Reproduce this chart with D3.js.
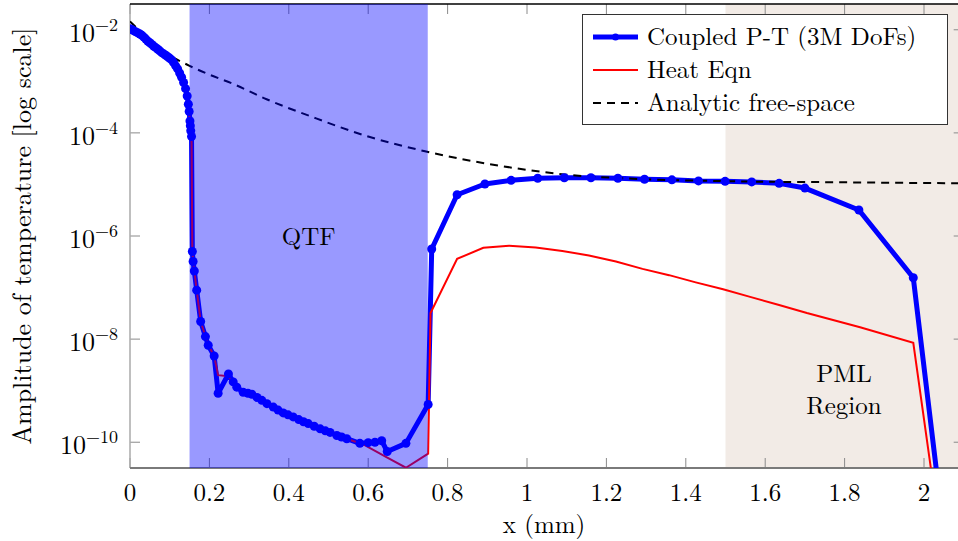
<!DOCTYPE html>
<html>
<head>
<meta charset="utf-8">
<script src="https://cdn.jsdelivr.net/npm/d3@7"></script>
<style>
  body { margin: 0; background: #fff; }
  svg text { font-family: "Latin Modern Roman", "CMU Serif", "Liberation Serif", serif; fill: #000; }
</style>
</head>
<body>
<script>
// x positions (mm) and amplitudes
const coupledX = [0, 0.005, 0.01, 0.015, 0.02, 0.025, 0.03, 0.035, 0.04, 0.045, 0.05, 0.055, 0.06, 0.065,
  0.07, 0.075, 0.08, 0.085, 0.09, 0.095, 0.1, 0.105, 0.11, 0.115, 0.12, 0.125, 0.13, 0.135, 0.14, 0.144,
  0.147, 0.149, 0.151, 0.152, 0.153, 0.155, 0.157, 0.159, 0.162, 0.168, 0.178, 0.19, 0.197, 0.212, 0.222,
  0.248, 0.26, 0.269, 0.285, 0.297, 0.307, 0.32, 0.332, 0.345, 0.361, 0.373, 0.386, 0.398, 0.411, 0.425,
  0.437, 0.449, 0.464, 0.479, 0.492, 0.504, 0.521, 0.533, 0.546, 0.579, 0.6, 0.617, 0.634, 0.648, 0.695,
  0.751, 0.76, 0.824, 0.894, 0.96, 1.027, 1.094, 1.161, 1.229, 1.296, 1.365, 1.432, 1.499, 1.566, 1.635,
  1.7, 1.836, 1.973, 2.05]
const coupledY = [1.05e-2, 1.0e-2, 9.5e-3, 9.1e-3, 8.7e-3, 8.3e-3, 7.8e-3, 7.2e-3, 6.6e-3, 6.0e-3, 5.6e-3,
  5.2e-3, 4.8e-3, 4.5e-3, 4.2e-3, 3.9e-3, 3.6e-3, 3.4e-3, 3.2e-3, 3.0e-3, 2.8e-3, 2.6e-3, 2.3e-3, 2.0e-3,
  1.74e-3, 1.45e-3, 1.2e-3, 9.5e-4, 7.2e-4, 5.2e-4, 3.6e-4, 2.6e-4, 1.7e-4, 1.38e-4, 1.1e-4, 8.5e-5,
  5.0e-7, 3.2e-7, 2.1e-7, 8.9e-8, 2.2e-8, 1.12e-8, 7.6e-9, 4.7e-9, 8.9e-10,
  2.1e-9, 1.48e-9, 1.17e-9, 9.3e-10, 8.9e-10, 8.5e-10, 7.4e-10, 6.5e-10, 5.6e-10, 4.8e-10, 4.2e-10,
  3.7e-10, 3.4e-10, 3.1e-10, 2.75e-10, 2.5e-10, 2.3e-10, 2.04e-10, 1.82e-10, 1.66e-10, 1.55e-10, 1.35e-10,
  1.26e-10, 1.17e-10, 9.5e-11, 9.8e-11, 1.0e-10, 1.07e-10, 6.6e-11, 9.5e-11,
  5.4e-10, 5.6e-7, 6.3e-6, 1.02e-5, 1.2e-5, 1.32e-5, 1.35e-5, 1.35e-5, 1.32e-5, 1.26e-5, 1.23e-5, 1.17e-5,
  1.15e-5, 1.12e-5, 1.05e-5, 8.5e-6, 3.2e-6, 1.55e-7, 1.8e-12]

const heatX = [0, 0.05, 0.1, 0.12, 0.13, 0.14, 0.147, 0.151, 0.155, 0.157, 0.162, 0.168, 0.178, 0.197,
  0.212, 0.222, 0.248, 0.269, 0.307, 0.361, 0.411, 0.479, 0.546, 0.59, 0.647, 0.695, 0.751, 0.757, 0.824,
  0.89, 0.955, 1.022, 1.089, 1.156, 1.224, 1.291, 1.358, 1.425, 1.494, 1.562, 1.635, 1.705, 1.839, 1.973, 2.05]
const heatY = [1.05e-2, 5.6e-3, 2.8e-3, 1.74e-3, 1.2e-3, 7.2e-4, 3.6e-4, 1.7e-4, 8.5e-5, 5.0e-7, 2.1e-7,
  8.9e-8, 2.2e-8, 7.8e-9, 4.7e-9, 2.0e-9, 1.9e-9, 1.17e-9, 8.5e-10, 4.8e-10, 3.1e-10, 1.82e-10, 1.17e-10,
  8.9e-11, 5.1e-11, 3.2e-11, 6.0e-11, 3.2e-8, 3.6e-7, 5.9e-7, 6.5e-7, 6.0e-7, 5.1e-7, 4.2e-7, 3.2e-7,
  2.3e-7, 1.74e-7, 1.26e-7, 9.3e-8, 6.6e-8, 4.6e-8, 3.2e-8, 1.7e-8, 8.5e-9, 5e-13]

const analyticX = [0, 0.05, 0.1, 0.15, 0.2, 0.26, 0.344, 0.462, 0.6, 0.743, 0.932, 1.1, 1.267, 1.52, 1.8, 2.1]
const analyticY = [1.45e-2, 6.3e-3, 3.2e-3, 2.0e-3, 1.35e-3, 8.9e-4, 4.5e-4, 2.0e-4, 8.5e-5, 4.4e-5,
  2.3e-5, 1.55e-5, 1.29e-5, 1.15e-5, 1.1e-5, 1.05e-5]

const xTicks = [0, 0.2, 0.4, 0.6, 0.8, 1, 1.2, 1.4, 1.6, 1.8, 2]
const yTickExp = [-2, -4, -6, -8, -10]
const qtfRange = [0.15, 0.75]
const pmlRange = [1.5, 2.1]
const legendLabels = ['Coupled P-T (3M DoFs)', 'Heat Eqn', 'Analytic free-space']

const width = 958
const height = 541
const plotLeft = 130, plotTop = 4, plotBottom = 468

const x = d3.scaleLinear().domain([0, 2.1]).range([plotLeft, plotLeft + 2.1 * 397])
const y = d3.scaleLog().domain([Math.pow(10, -10.5), Math.pow(10, -1.5)]).range([plotBottom, plotTop])
const plotRight = x(2.1)

const svg = d3.select('body').append('svg')
  .attr('width', width)
  .attr('height', height)

svg.append('defs').append('clipPath').attr('id', 'plotclip')
  .append('rect')
  .attr('x', plotLeft).attr('y', plotTop)
  .attr('width', plotRight - plotLeft).attr('height', plotBottom - plotTop)

// PML background
svg.append('rect')
  .attr('x', x(pmlRange[0])).attr('y', plotTop)
  .attr('width', x(pmlRange[1]) - x(pmlRange[0]))
  .attr('height', plotBottom - plotTop)
  .attr('fill', '#f2ebe6')

// ticks and axis lines
const tickColor = '#8a8a8a'
const ticks = svg.append('g').attr('stroke', tickColor).attr('stroke-width', 1)
xTicks.forEach(function(t) {
  ticks.append('line').attr('x1', x(t)).attr('x2', x(t)).attr('y1', plotBottom).attr('y2', plotBottom - 10)
  ticks.append('line').attr('x1', x(t)).attr('x2', x(t)).attr('y1', plotTop).attr('y2', plotTop + 10)
})
yTickExp.forEach(function(e) {
  const v = y(Math.pow(10, e))
  ticks.append('line').attr('x1', plotLeft).attr('x2', plotLeft + 10).attr('y1', v).attr('y2', v)
  ticks.append('line').attr('x1', plotRight).attr('x2', plotRight - 10).attr('y1', v).attr('y2', v)
})

svg.append('line').attr('x1', plotLeft).attr('x2', plotLeft).attr('y1', plotTop).attr('y2', plotBottom)
  .attr('stroke', '#aaa').attr('stroke-width', 1.5)
svg.append('line').attr('x1', plotLeft).attr('x2', plotRight).attr('y1', plotBottom).attr('y2', plotBottom)
  .attr('stroke', '#7a7a7a').attr('stroke-width', 2)
svg.append('line').attr('x1', plotLeft).attr('x2', plotRight).attr('y1', plotTop).attr('y2', plotTop)
  .attr('stroke', '#000').attr('stroke-width', 1.5)

// series
const plot = svg.append('g').attr('clip-path', 'url(#plotclip)')
const line = d3.line().x(function(d) { return x(d[0]) }).y(function(d) { return y(d[1]) })

const coupled = d3.zip(coupledX, coupledY)
const heat = d3.zip(heatX, heatY)
const analytic = d3.zip(analyticX, analyticY)

plot.append('path').datum(coupled)
  .attr('d', line)
  .attr('fill', 'none').attr('stroke', '#0000ff').attr('stroke-width', 5)
  .attr('stroke-linejoin', 'round')

plot.append('path').datum(heat)
  .attr('d', line)
  .attr('fill', 'none').attr('stroke', '#ff0000').attr('stroke-width', 2)

plot.append('path').datum(analytic)
  .attr('d', line.curve(d3.curveMonotoneX))
  .attr('fill', 'none').attr('stroke', '#000').attr('stroke-width', 2)
  .attr('stroke-dasharray', '8,6')

// markers go on top of all lines
plot.append('g').selectAll('circle')
  .data(coupled)
  .enter().append('circle')
    .attr('cx', function(d) { return x(d[0]) })
    .attr('cy', function(d) { return y(d[1]) })
    .attr('r', 4.5)
    .attr('fill', '#0000ff')

// QTF overlay, drawn over the curves
svg.append('rect')
  .attr('x', x(qtfRange[0])).attr('y', plotTop)
  .attr('width', x(qtfRange[1]) - x(qtfRange[0]))
  .attr('height', plotBottom - plotTop)
  .attr('fill', '#0000ff')
  .attr('fill-opacity', 0.4)

// tick labels
xTicks.forEach(function(t) {
  svg.append('text')
    .attr('x', x(t)).attr('y', 501)
    .attr('text-anchor', 'middle')
    .attr('font-size', 25)
    .text(String(t))
})
yTickExp.forEach(function(e) {
  const v = y(Math.pow(10, e))
  const label = svg.append('text')
    .attr('x', 118).attr('y', v + 12)
    .attr('text-anchor', 'end')
    .attr('font-size', 26)
  label.append('tspan').text('10')
  label.append('tspan').attr('dy', -11).attr('font-size', 18).text('\u2212' + Math.abs(e))
})

svg.append('text')
  .attr('x', (plotLeft + 958) / 2).attr('y', 533)
  .attr('text-anchor', 'middle')
  .attr('font-size', 25)
  .text('x (mm)')

svg.append('text')
  .attr('transform', 'translate(31,' + ((plotTop + plotBottom) / 2) + ') rotate(-90)')
  .attr('text-anchor', 'middle')
  .attr('font-size', 26)
  .text('Amplitude of temperature [log scale]')

// region labels
svg.append('text')
  .attr('x', x(0.45)).attr('y', 245)
  .attr('text-anchor', 'middle').attr('font-size', 25)
  .text('QTF')
svg.append('text')
  .attr('x', 844).attr('y', 382)
  .attr('text-anchor', 'middle').attr('font-size', 25)
  .text('PML')
svg.append('text')
  .attr('x', 844).attr('y', 414)
  .attr('text-anchor', 'middle').attr('font-size', 25)
  .text('Region')

// legend
const legend = svg.append('g').attr('class', 'legend')
legend.append('rect')
  .attr('x', 582.5).attr('y', 14.5)
  .attr('width', 365).attr('height', 110)
  .attr('fill', '#fff').attr('stroke', '#333').attr('stroke-width', 1)

const legendRows = legend.selectAll('g.row')
  .data(legendLabels)
  .enter().append('g')
    .attr('class', 'row')
    .attr('transform', function(d, i) { return 'translate(0,' + (37 + i * 33) + ')' })

legendRows.append('line')
  .attr('x1', 593).attr('x2', 638).attr('y1', 0).attr('y2', 0)
  .attr('stroke', function(d, i) { return ['#0000ff', '#ff0000', '#000'][i] })
  .attr('stroke-width', function(d, i) { return i === 0 ? 5 : 2 })
  .attr('stroke-dasharray', function(d, i) { return i === 2 ? '8,6' : null })

legend.append('circle')
  .attr('cx', 615.5).attr('cy', 37).attr('r', 3.5).attr('fill', '#0000ff')

legendRows.append('text')
  .attr('x', 647).attr('y', 8)
  .attr('font-size', 25)
  .text(function(d) { return d })
</script>
</body>
</html>
